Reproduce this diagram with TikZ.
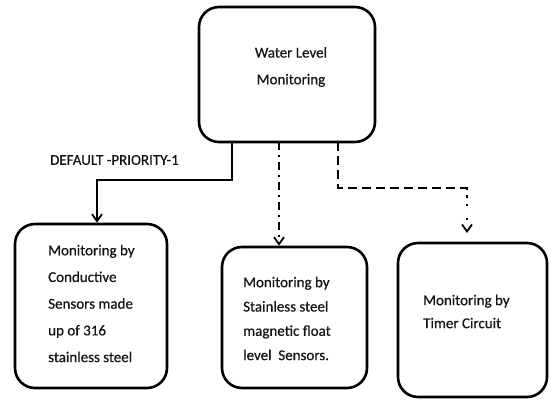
\documentclass[tikz,border=0pt]{standalone}
\usepackage{fontspec}
\setmainfont[FakeBold=0.6]{Carlito}
\usetikzlibrary{arrows.meta,calc}
\begin{document}
\begin{tikzpicture}[x=1pt,y=-1pt,
  box/.style={draw, line width=2.6pt, rounded corners=20pt, inner sep=0pt},
  label/.style={font=\fontsize{15}{26.7}\selectfont, align=left, anchor=west, inner sep=0pt, text=black!92},
  link/.style={line width=2pt, -{Straight Barb[length=7pt,width=10pt,line width=1.8pt]}},
  dashdot/.style={dash pattern=on 8pt off 5pt on 2pt off 5pt},
  dashline/.style={dash pattern=on 9pt off 5pt}]
\useasboundingbox (0,0) rectangle (553,401);

% boxes
\node[box, minimum width=176pt, minimum height=135pt] (top) at (287,74.5) {};
\node[box, minimum width=152pt, minimum height=164pt] (b1) at (91,306) {};
\node[box, minimum width=145pt, minimum height=141pt] (b2) at (294.5,317.5) {};
\node[box, minimum width=149pt, minimum height=154pt] (b3) at (472.5,320) {};

% texts
\node[label, align=center, anchor=center] (ttop) at (291,67) {Water Level\\Monitoring};
\node[label] (t1) at (48,303.5) {Monitoring by\\Conductive\\Sensors made\\up of 316\\stainless steel};
\node[label, font=\fontsize{15}{24.3}\selectfont] (t2) at (243,318.5) {Monitoring by\\Stainless steel\\magnetic float\\level~~Sensors.};
\node[label, font=\fontsize{15}{23}\selectfont] (t3) at (423,311.5) {Monitoring by\\Timer Circuit};
\node[label] (lbl) at (50,160) {DEFAULT -PRIORITY-1};

% connector coordinates
\coordinate (s1) at (232,142);
\coordinate (c1a) at (232,180);
\coordinate (c1b) at (97,180);
\coordinate (s2) at (279,142);
\coordinate (s3) at (338,142);
\coordinate (c3a) at (338,188);
\coordinate (c3b) at (467,188);
\coordinate (c3c) at (467,198);
\coordinate (e3) at (467,233);

% connectors
\draw[link] (s1) -- (c1a) -- (c1b) -- (c1b |- b1.north);
\draw[link, dashdot] (s2) -- (s2 |- b2.north);
\draw[line width=2pt, dashline] (s3) -- (c3a) -- (c3b) -- (c3c);
\draw[link, dash pattern=on 0pt off 6pt on 2pt off 6pt] (c3c) -- (e3);
\end{tikzpicture}
\end{document}
